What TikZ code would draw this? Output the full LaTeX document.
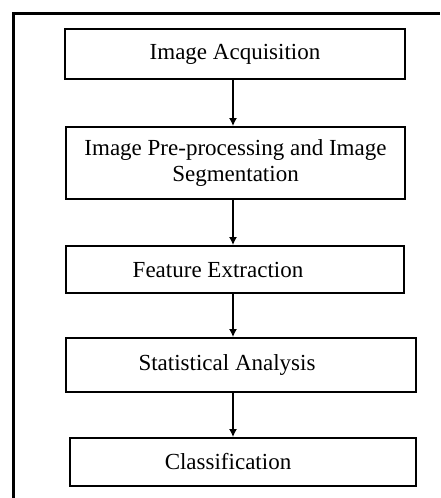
\documentclass[tikz,border=0pt]{standalone}
\usepackage{fontspec}
\setmainfont{Liberation Serif}
\usepackage{tikz}
\usetikzlibrary{calc,arrows.meta}

\begin{document}
\begin{tikzpicture}[x=1pt,y=-1pt,
    stage/.style={draw,line width=2pt,rectangle,inner sep=0pt,align=center,
        font=\fontsize{23}{25}\selectfont},
    flow/.style={line width=1.3pt,-{Latex[length=8pt,width=8pt]}}]
\useasboundingbox (0,0) rectangle (440,498);

% outer frame
\draw [line width=3pt] (13,498) -- (13,13) -- (440,13);

\node[stage,minimum width=340pt,minimum height=50pt] (acq) at (235,54) {Image Acquisition};
\node[stage,minimum width=339pt,minimum height=72pt] (prep) at (235.5,163)
    {Image Pre-processing and Image\\Segmentation};
\node[stage,minimum width=338pt,minimum height=47pt] (feat) at (235,269.5) {Feature Extraction\hspace*{34pt}};
\node[stage,minimum width=350pt,minimum height=54pt] (stat) at (241,365) {Statistical Analysis\hspace*{28pt}};
\node[stage,minimum width=346pt,minimum height=48pt] (cls) at (243,462) {Classification\hspace*{30pt}};

\coordinate (axis) at (233,0);
\draw [flow] (acq.south -| axis) -- (prep.north -| axis);
\draw [flow] (prep.south -| axis) -- (feat.north -| axis);
\draw [flow] (feat.south -| axis) -- (stat.north -| axis);
\draw [flow] (stat.south -| axis) -- (cls.north -| axis);
\end{tikzpicture}
\end{document}
